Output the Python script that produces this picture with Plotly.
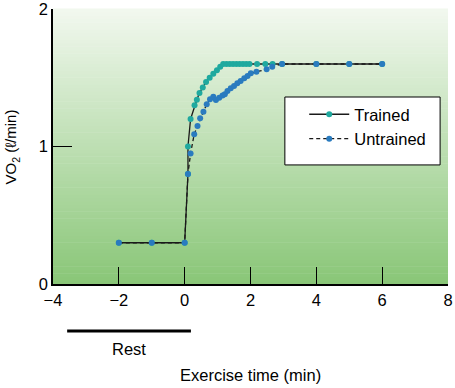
import plotly.graph_objects as go

# Data
trained_x = [-2, -1, 0, 0.1, 0.1, 0.18, 0.3, 0.37, 0.45, 0.55, 0.65, 0.76, 0.87, 0.98, 1.08, 1.17,
             1.27, 1.37, 1.47, 1.57, 1.67, 1.77, 1.87, 1.97, 2.2, 2.45, 2.67, 2.96, 4, 5, 6]
trained_y = [0.3, 0.3, 0.3, 0.8, 1.0, 1.2, 1.3, 1.34, 1.39, 1.43, 1.47, 1.5, 1.53, 1.555, 1.58, 1.6,
             1.6, 1.6, 1.6, 1.6, 1.6, 1.6, 1.6, 1.6, 1.6, 1.6, 1.6, 1.6, 1.6, 1.6, 1.6]

untrained_x = [-2, -1, 0, 0.1, 0.18, 0.29, 0.39, 0.47, 0.57, 0.67, 0.77, 0.87, 0.95, 1.05, 1.15, 1.22,
               1.3, 1.4, 1.5, 1.6, 1.7, 1.81, 1.91, 2.01, 2.18, 2.49, 2.66, 2.96, 4, 5, 6]
untrained_y = [0.3, 0.3, 0.3, 0.8, 0.95, 1.09, 1.15, 1.205, 1.253, 1.307, 1.343, 1.362, 1.338, 1.355,
               1.37, 1.38, 1.404, 1.423, 1.44, 1.46, 1.476, 1.496, 1.513, 1.532, 1.544, 1.561, 1.58,
               1.6, 1.6, 1.6, 1.6]

x_ticks = [-4, -2, 0, 2, 4, 6, 8]
y_ticks = [0, 1, 2]

rest_start, rest_end = -3.57, 0.19

TEAL = "#1fa99f"
BLUE = "#2a7bbf"
FONT = "Liberation Sans, Arial, sans-serif"

fig = go.Figure()

fig.add_trace(go.Scatter(
    x=trained_x, y=trained_y, name="Trained", mode="lines+markers",
    line=dict(color="#1a1a1a", width=1.3),
    marker=dict(color=TEAL, size=6),
))
fig.add_trace(go.Scatter(
    x=untrained_x, y=untrained_y, name="Untrained", mode="lines+markers",
    line=dict(color="#1a1a1a", width=1.3, dash="4px,3px"),
    marker=dict(color=BLUE, size=6),
))

# Gradient background as bands
shapes = []
n = 80
top = (242, 248, 239)
bot = (137, 198, 119)
for i in range(n):
    t = (i + 0.5) / n  # 0 bottom -> 1 top
    c = tuple(int(round(bot[k] + (top[k] - bot[k]) * t)) for k in range(3))
    shapes.append(dict(type="rect", xref="x domain", yref="y domain",
                       x0=0, x1=1, y0=i / n, y1=(i + 1) / n + 0.002,
                       fillcolor="rgb(%d,%d,%d)" % c, line=dict(width=0), layer="below"))

# Legend box
shapes.append(dict(type="rect", xref="paper", yref="paper", x0=0.587, x1=0.98,
                   y0=0.433, y1=0.68, fillcolor="white",
                   line=dict(color="black", width=1), layer="below"))

# Rest bar
shapes.append(dict(type="line", xref="x", yref="paper", x0=rest_start, x1=rest_end,
                   y0=-0.171, y1=-0.171, line=dict(color="black", width=3)))

fig.update_layout(
    width=455, height=388,
    margin=dict(l=53, r=7, t=9, b=104, autoexpand=False),
    paper_bgcolor="white", plot_bgcolor="white",
    font=dict(family=FONT, size=16.5, color="black"),
    shapes=shapes,
    showlegend=True,
    legend=dict(x=0.636, y=0.68, xanchor="left", yanchor="top",
                bgcolor="rgba(0,0,0,0)", borderwidth=0,
                font=dict(size=16.5, family=FONT), itemwidth=40),
    annotations=[
        dict(text="Rest", x=-1.69, y=-0.236, xref="x", yref="paper", showarrow=False,
             xanchor="center", yanchor="middle", font=dict(size=16.5)),
        dict(text="Exercise time (min)", x=2.01, y=-0.331, xref="x", yref="paper",
             showarrow=False, xanchor="center", yanchor="middle", font=dict(size=16.5)),
        dict(text="VO<sub>2</sub> (ℓ/min)", x=-0.104, y=0.5, xref="paper", yref="paper",
             showarrow=False, textangle=-90, xanchor="center", yanchor="middle",
             font=dict(size=15)),
    ],
)

fig.update_xaxes(range=[-4, 8], tickvals=x_ticks, ticks="inside", ticklen=17,
                 tickcolor="black", tickwidth=1.3, showline=True, linecolor="black",
                 linewidth=1.5, showgrid=False, zeroline=False, fixedrange=True,
                 tickfont=dict(size=16.5), ticklabeloverflow="allow", automargin=False)
fig.update_yaxes(range=[0, 2], tickvals=y_ticks, ticks="inside", ticklen=19,
                 tickcolor="black", tickwidth=1.3, showline=True, linecolor="black",
                 linewidth=1.5, showgrid=False, zeroline=False, fixedrange=True,
                 tickfont=dict(size=16.5), ticklabeloverflow="allow", automargin=False)

fig.write_html("out.html", config={"displayModeBar": False},
               post_script="document.body.style.margin='0';")
